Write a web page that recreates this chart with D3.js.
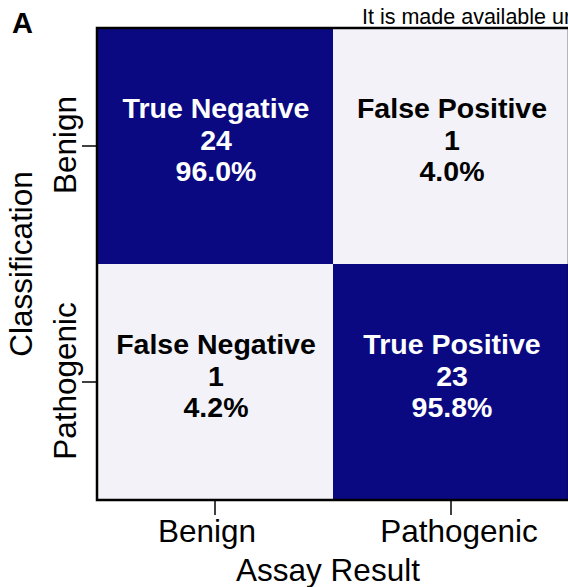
<!DOCTYPE html>
<html>
<head>
<meta charset="utf-8">
<script src="https://cdn.jsdelivr.net/npm/d3@7/dist/d3.min.js"></script>
<style>
  body { margin: 0; background: #fff; }
  text { font-family: "Liberation Sans", Arial, sans-serif; }
</style>
</head>
<body>
<svg id="chart" width="568" height="587"></svg>
<script>
// Confusion matrix, panel A

const predicted = ['Benign', 'Pathogenic'];
const actual = ['Benign', 'Pathogenic'];
const cellNames = [['True Negative', 'False Positive'], ['False Negative', 'True Positive']];
const counts = [[24, 1], [1, 23]];
const percents = [[96.0, 4.0], [4.2, 95.8]];

const svg = d3.select('#chart');
const plotLeft = 97, plotTop = 28, size = 472;
// small horizontal nudges of the bottom tick labels, as in the original
const xLabelShift = { Benign: -8, Pathogenic: 8 };

const x = d3.scaleBand().domain(predicted).range([plotLeft, plotLeft + size]);
const y = d3.scaleBand().domain(actual).range([plotTop, plotTop + size]);

const color = d3.scaleQuantize()
  .domain([0, 100])
  .range(['#f2f2f8', '#0a0981']);

const cells = [];
actual.forEach((a, i) => predicted.forEach((p, j) => cells.push({
  a, p, name: cellNames[i][j], n: counts[i][j], pct: percents[i][j]
})));

const g = svg.append('g');

g.selectAll('rect')
  .data(cells)
  .enter()
  .append('rect')
    .attr('x', d => x(d.p))
    .attr('y', d => y(d.a))
    .attr('width', x.bandwidth())
    .attr('height', y.bandwidth())
    .attr('fill', d => color(d.pct));

const labels = g.selectAll('text.cell')
  .data(cells)
  .enter()
  .append('text')
    .attr('class', 'cell')
    .attr('text-anchor', 'middle')
    .attr('font-size', 28.5)
    .attr('font-weight', 'bold')
    .attr('fill', d => d.pct > 50 ? '#fff' : '#000');

labels.each(function(d) {
  const t = d3.select(this);
  const cx = x(d.p) + x.bandwidth() / 2 + 1;
  const cy = y(d.a) + y.bandwidth() / 2;
  [d.name, d.n, d.pct.toFixed(1) + '%'].forEach((s, k) => {
    t.append('tspan')
      .attr('x', cx)
      .attr('y', cy - 28 + k * 31.5)
      .text(s);
  });
});

// frame
svg.append('rect')
  .attr('x', plotLeft)
  .attr('y', plotTop)
  .attr('width', size)
  .attr('height', size)
  .attr('fill', 'none')
  .attr('stroke', '#000')
  .attr('stroke-width', 2.5);

// axes
const xAxis = svg.append('g')
  .attr('transform', `translate(0,${plotTop + size})`)
  .call(d3.axisBottom(x).tickSize(15).tickSizeOuter(0));
xAxis.select('.domain').remove();
xAxis.selectAll('line').attr('stroke-width', 1.5);
xAxis.selectAll('text')
  .attr('font-size', 31.5)
  .attr('fill', '#000')
  .attr('dy', 0)
  .attr('x', d => xLabelShift[d])
  .attr('y', 42);

const yAxis = svg.append('g')
  .attr('transform', `translate(${plotLeft},0)`)
  .call(d3.axisLeft(y).tickSize(15).tickSizeOuter(0));
yAxis.select('.domain').remove();
yAxis.selectAll('line').attr('stroke-width', 1.5);
yAxis.selectAll('text')
  .attr('font-size', 31.5)
  .attr('fill', '#000')
  .attr('text-anchor', 'middle')
  .attr('x', 0)
  .attr('dy', 0)
  .attr('y', 0)
  .attr('transform', 'translate(-21,-1) rotate(-90)');

svg.append('text')
  .attr('x', 328)
  .attr('y', 581)
  .attr('text-anchor', 'middle')
  .attr('font-size', 31.5)
  .text('Assay Result');

svg.append('text')
  .attr('transform', `translate(32,${plotTop + size / 2}) rotate(-90)`)
  .attr('text-anchor', 'middle')
  .attr('font-size', 31.5)
  .text('Classification');

svg.append('text')
  .attr('x', 12)
  .attr('y', 33)
  .attr('font-size', 29)
  .attr('font-weight', 'bold')
  .text('A');

svg.append('text')
  .attr('x', 362)
  .attr('y', 24)
  .attr('font-size', 21.5)
  .text('It is made available ur');
</script>
</body>
</html>
